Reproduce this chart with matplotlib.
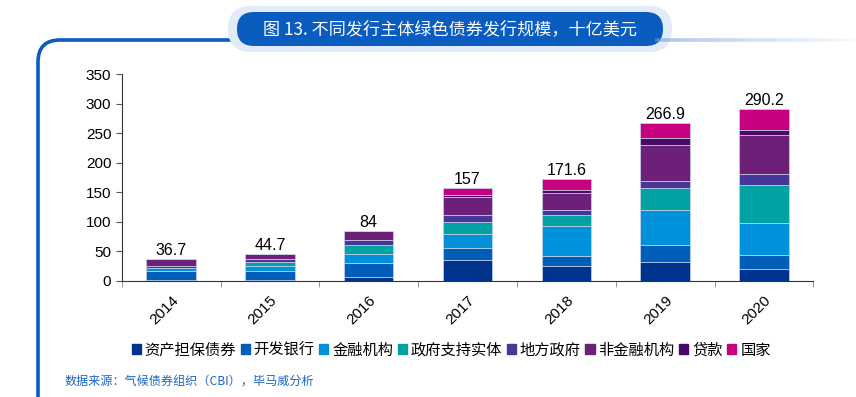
import numpy as np
import matplotlib.pyplot as plt
from matplotlib.patches import FancyBboxPatch, Patch, PathPatch
from matplotlib.path import Path

plt.rcParams['font.family'] = ['Liberation Sans', 'Noto Sans CJK SC', 'DejaVu Sans']

years = ['2014', '2015', '2016', '2017', '2018', '2019', '2020']
totals = [36.7, 44.7, 84, 157, 171.6, 266.9, 290.2]

series_names = ['资产担保债券', '开发银行', '金融机构', '政府支持实体',
                '地方政府', '非金融机构', '贷款', '国家']
colors = ['#00338D', '#005EB8', '#0091DA', '#00A3A1',
          '#483698', '#6D2077', '#470A68', '#C6007E']

abs_bonds = [1.7, 1.7, 6.8, 34.3, 25.3, 31.4, 20.1]
dev_banks = [14.1, 14.7, 22.7, 20.8, 15.7, 29.7, 22.9]
fin_inst = [5.6, 9.1, 16.5, 24.2, 51.1, 59.4, 55.4]
gov_backed = [0.5, 6.2, 14.2, 19.7, 19.1, 35.9, 64.4]
local_gov = [3.5, 5.1, 8.5, 12.9, 7.8, 11.8, 18.0]
non_fin = [11.3, 7.9, 15.3, 29.8, 29.1, 62.2, 66.1]
loans = [0.0, 0.0, 0.0, 2.8, 6.1, 11.8, 8.9]
sovereign = [0.0, 0.0, 0.0, 12.5, 17.4, 24.7, 34.4]

series = [abs_bonds, dev_banks, fin_inst, gov_backed,
          local_gov, non_fin, loans, sovereign]

W, H = 856, 397
fig = plt.figure(figsize=(8.56, 3.97), dpi=100)

# overlay in pixel coordinates for the frame and banner
deco = fig.add_axes([0, 0, 1, 1], zorder=-1)
deco.set_xlim(0, W)
deco.set_ylim(H, 0)
deco.axis('off')

ax = fig.add_axes([0.1422, 0.293, 0.808, 0.5206])

x = np.arange(len(years))
bottom = np.zeros(len(years))
for vals, c in zip(series, colors):
    ax.bar(x, vals, width=0.5, bottom=bottom, color=c,
           edgecolor='#c8d4ee', linewidth=0.5)
    bottom += np.array(vals)

for xi, t in zip(x, totals):
    ax.text(xi, t + 2, f'{t:g}', ha='center', va='bottom', fontsize=11.5)

ax.set_xlim(-0.5, len(years) - 0.5)
ax.set_ylim(0, 350)
ax.set_yticks(range(0, 351, 50))
ax.set_xticks(x)
ax.set_xticklabels(years, rotation=45, fontsize=11)
ax.tick_params(axis='x', length=0, pad=9)
ax.set_xticks(np.arange(-0.5, len(years)), minor=True)
ax.tick_params(axis='x', which='minor', length=4, color='#888888')
ax.tick_params(axis='y', labelsize=11, length=4, color='#555555')
for s in ['top', 'right']:
    ax.spines[s].set_visible(False)
for s in ['left', 'bottom']:
    ax.spines[s].set_color('#333333')
    ax.spines[s].set_linewidth(0.8)
for lbl in ax.get_xticklabels():
    lbl.set_ha('right')
    lbl.set_rotation_mode('anchor')

# legend
handles = [Patch(color=c) for c in colors]
fig.legend(handles, series_names, loc='center', bbox_to_anchor=(0.527, 0.118),
           ncol=8, frameon=False, handlelength=0.6,
           handleheight=0.6, handletextpad=0.25, columnspacing=0.3,
           prop={'family': ['Noto Sans CJK SC'], 'size': 11})

# frame line with rounded corner
verts = [(38, 397), (38, 62), (38, 40), (60, 40), (245, 40)]
codes = [Path.MOVETO, Path.LINETO, Path.CURVE3, Path.CURVE3, Path.LINETO]
deco.add_patch(PathPatch(Path(verts, codes), fill=False,
                         edgecolor='#0a5cbf', linewidth=2.6))
n = 40
xs = np.linspace(655, 856, n + 1)
for i in range(n):
    a = 0.55 * (1 - i / n) + 0.03
    deco.plot([xs[i], xs[i + 1]], [40, 40], color='#6f9fd8',
              alpha=a, linewidth=2.6, solid_capstyle='butt')

# title banner with soft halo
deco.add_patch(FancyBboxPatch((228, 6), 444, 46,
                              boxstyle='round,pad=0,rounding_size=23',
                              facecolor='#e2ecf8', edgecolor='none'))
deco.add_patch(FancyBboxPatch((237, 12), 426, 34,
                              boxstyle='round,pad=0,rounding_size=17',
                              facecolor='#0a5cbf', edgecolor='none'))
deco.text(450, 29, '图 13. 不同发行主体绿色债券发行规模，十亿美元', color='white',
          ha='center', va='center', fontsize=12.3,
          family=['Noto Sans CJK SC', 'DejaVu Sans'])

deco.text(65, 382, '数据来源：气候债券组织（CBI），毕马威分析', color='#1a66c6',
          ha='left', va='center', fontsize=8.7,
          family=['Noto Sans CJK SC', 'DejaVu Sans'])

fig.savefig('out.png', dpi=100)
